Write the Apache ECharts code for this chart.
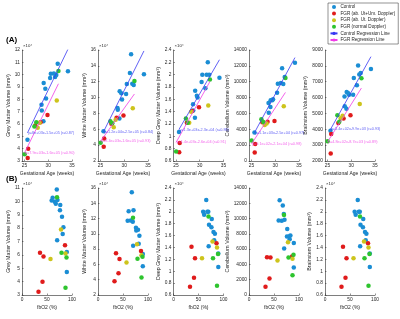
<!DOCTYPE html>
<html>
<head>
<meta charset="utf-8">
<script src="https://cdn.jsdelivr.net/npm/echarts@6/dist/echarts.min.js"></script>
<style>
html, body { margin: 0; padding: 0; background: #fff; }
#chart { width: 400px; height: 319px; }
</style>
</head>
<body>
<div id="chart"></div>
<script>
// grey, white and deep grey matter in 1e4 mm3, cerebellum and brainstem in mm3
var ctrlGA   = [25.65, 29.0, 28.65, 28.6, 29.55, 29.4, 29.05, 30.4, 31.45, 31.7, 30.55, 34.15, 32.0, 31.2];
var ctrlFbo2 = [89.6, 89.6, 70.3, 81.4, 82.8, 80, 75.9, 76.5, 67.6, 65.5, 59.3, 61.3, 69.6, 71];
var ctrlGM   = [4.72, 6.22, 7.1, 7.56, 8.06, 8.85, 9.33, 9.73, 9.82, 9.97, 10.07, 10.27, 10.88, 10.1];
var ctrlWM   = [5.75, 7.35, 8.45, 8.7, 9.75, 10.55, 10.8, 10.45, 15.45, 11.75, 11.7, 12.95, 11.6, 13.1];
var ctrlDGM  = [1.07, 1.30, 1.42, 1.52, 1.63, 1.66, 1.74, 1.88, 2.0, 2.2, 2.0, 1.95, 2.0, 1.78];
var ctrlCB   = [3600, 6800, 6100, 7300, 7800, 7670, 7670, 8620, 11700, 9700, 9750, 12400, 10600, 9830];
var ctrlBS   = [3900, 5300, 5450, 6075, 6180, 6280, 6350, 6180, 8020, 7450, 7230, 7800, 7550, 6770];

var redGA   = [25.7, 25.8, 27.3, 28.4, 29.85];
var redFbo2 = [33, 41, 43, 36, 86];
var redGM   = [3.25, 4.0, 5.88, 6.15, 6.72];
var redWM   = [3.8, 4.85, 6.7, 7.45, 7.75];
var redDGM  = [0.74, 0.89, 1.22, 1.41, 1.47];
var redCB   = [1080, 2150, 4900, 4950, 5050];
var redBS   = [2480, 3710, 4400, 4675, 4880];

var yelGA   = [27.8, 28.2, 31.8];
var yelFbo2 = [57, 87, 78];
var yelGM   = [5.7, 6.1, 7.9];
var yelWM   = [6.25, 7.2, 8.65];
var yelDGM  = [1.22, 1.4, 1.5];
var yelCB   = [4530, 4740, 6900];
var yelBS   = [4700, 4850, 5600];

var grnGA   = [25.05, 27.1, 27.5, 32.15];
var grnFbo2 = [87, 89, 79, 70];
var grnGM   = [3.55, 5.8, 6.15, 10.3];
var grnWM   = [4.3, 7.0, 6.75, 12.1];
var grnDGM  = [0.755, 1.29, 1.22, 1.92];
var grnCB   = [2590, 5260, 4910, 10470];
var grnBS   = [3250, 4880, 4470, 7225];

// regression lines y = a*x + b (mm3), one per row A panel
var ctrlSlope = [7980, 12000, 1330, 1114, 540];
var ctrlIcpt  = [-151900, -251000, -23000, -25000, -9860];
var ctrlR     = [0.87, 0.84, 0.86, 0.97, 0.93];
var fgrSlope  = [7870, 8380, 1390, 911, 477];
var fgrIcpt   = [-160400, -164900, -25800, -20640, -8735];
var fgrR      = [0.90, 0.93, 0.91, 0.98, 0.89];
var ctrlRange = [25.65, 34.15];
var fgrRange  = [25.05, 32.15];

var groupNames = ['Control', 'FGR (ab. Ut+Um. Doppler)', 'FGR (ab. Ut. Doppler)', 'FGR (normal Doppler)'];
var lineNames = ['Control Regression Line', 'FGR Regression Line'];
var volNames = ['Grey Matter Volume (mm³)', 'White Matter Volume (mm³)', 'Deep Grey Matter Volume (mm³)',
	'Cerebellum Volume (mm³)', 'Brainstem Volume (mm³)'];
var volScale = [1e4, 1e4, 1e4, 1, 1];
var yMinA = [3, 2, 0.6, 0, 2000], yMaxA = [12, 16, 2.4, 14000, 9000], yStepA = [1, 2, 0.2, 2000, 1000];
var yMinB = [3, 2, 0.6, 0, 0.6], yMaxB = [11, 16, 2.4, 14000, 2.4], yStepB = [1, 2, 0.2, 2000, 0.2];
// the fbO2 brainstem panel of the source figure repeats the deep grey matter values
var volIndexB = [0, 1, 2, 3, 2];
var gaTicks = [25, 30, 35];
var fbTicks = [0, 50, 100];

var groups = [
	{ga: ctrlGA, fb: ctrlFbo2, vols: [ctrlGM, ctrlWM, ctrlDGM, ctrlCB, ctrlBS]},
	{ga: redGA, fb: redFbo2, vols: [redGM, redWM, redDGM, redCB, redBS]},
	{ga: yelGA, fb: yelFbo2, vols: [yelGM, yelWM, yelDGM, yelCB, yelBS]},
	{ga: grnGA, fb: grnFbo2, vols: [grnGM, grnWM, grnDGM, grnCB, grnBS]}
];
var groupColors = ['#1a8dd4', '#e01b1b', '#cdc41c', '#2ec42e'];
var lineColors = ['#3838f2', '#f03ce6'];
var ink = '#262626';
var font = 'Liberation Sans';

var lefts = [22, 98, 173.5, 249, 325];
var nameGaps = [10, 10, 11, 17, 14, 10, 10, 11, 17, 11];

function g2(v) {
	var s = Number(Math.abs(v).toPrecision(2)).toExponential();
	return s.replace(/e([+-])(\d)$/, 'e$10$2');
}
function eqText(a, b, r) {
	return 'y=' + g2(a) + 'x' + (b < 0 ? '-' : '+') + g2(b) + ' (r=' + r.toFixed(2) + ')';
}
function tickFmt(v) {
	return String(+v.toFixed(4));
}

var grid = [], xAxis = [], yAxis = [], series = [], graphic = [];

function addAxes(k, left, top, height, isA, p) {
	grid[k] = {left: left, top: top, width: 50, height: height};
	var ticks = isA ? gaTicks : fbTicks;
	xAxis[k] = {
		gridIndex: k, type: 'value',
		min: isA ? 24.5 : 0, max: isA ? 35 : 100,
		name: isA ? 'Gestational Age (weeks)' : 'fbO2 (%)',
		nameLocation: 'middle', nameGap: 10,
		nameTextStyle: {fontSize: 5, color: ink, fontFamily: font},
		axisLine: {lineStyle: {color: ink, width: 0.6}},
		axisTick: {inside: true, length: 1.5, customValues: ticks, lineStyle: {color: ink, width: 0.5}},
		axisLabel: {customValues: ticks, fontSize: 4.8, color: ink, margin: 2, fontFamily: font, formatter: tickFmt},
		splitLine: {show: false}
	};
	var yMin = isA ? yMinA[p] : yMinB[p];
	var yMax = isA ? yMaxA[p] : yMaxB[p];
	var yStep = isA ? yStepA[p] : yStepB[p];
	yAxis[k] = {
		gridIndex: k, type: 'value', min: yMin, max: yMax, interval: yStep,
		name: volNames[p], nameLocation: 'middle', nameGap: nameGaps[k],
		nameTextStyle: {fontSize: 5.3, color: ink, fontFamily: font},
		axisLine: {show: true, lineStyle: {color: ink, width: 0.6}},
		axisTick: {show: true, inside: true, length: 1.5, lineStyle: {color: ink, width: 0.5}},
		axisLabel: {fontSize: 4.8, color: ink, margin: 2, fontFamily: font, formatter: tickFmt},
		splitLine: {show: false}
	};
}

for (var p = 0; p < 5; p++) {
	var kA = p, kB = p + 5;
	addAxes(kA, lefts[p], 50, 111, true, p);
	addAxes(kB, lefts[p], 188, 107, false, p);
	for (var g = 0; g < groups.length; g++) {
		var grp = groups[g];
		var ptsA = [], ptsB = [];
		for (var i = 0; i < grp.ga.length; i++) {
			ptsA.push([grp.ga[i], grp.vols[p][i]]);
			ptsB.push([grp.fb[i], grp.vols[volIndexB[p]][i]]);
		}
		series.push({name: groupNames[g], type: 'scatter', xAxisIndex: kA, yAxisIndex: kA,
			symbolSize: 4.5, itemStyle: {color: groupColors[g], opacity: 1}, data: ptsA});
		series.push({name: groupNames[g], type: 'scatter', xAxisIndex: kB, yAxisIndex: kB,
			symbolSize: 4.5, itemStyle: {color: groupColors[g], opacity: 1}, data: ptsB});
	}
	var fits = [
		[ctrlSlope[p], ctrlIcpt[p], ctrlR[p], ctrlRange],
		[fgrSlope[p], fgrIcpt[p], fgrR[p], fgrRange]
	];
	for (var f = 0; f < 2; f++) {
		var a = fits[f][0], b = fits[f][1], rng = fits[f][3];
		var x0 = rng[0], x1 = rng[1];
		var y0 = (a * x0 + b) / volScale[p], y1 = (a * x1 + b) / volScale[p];
		series.push({name: lineNames[f], type: 'line', xAxisIndex: kA, yAxisIndex: kA,
			symbol: 'none', lineStyle: {color: lineColors[f], width: 0.8}, itemStyle: {color: lineColors[f]},
			data: [[x0, y0], [x1, y1]], z: 3});
		series.push({name: 'eq', type: 'scatter', xAxisIndex: kA, yAxisIndex: kA, symbolSize: 0, silent: true,
			data: [[x0, y0]], z: 4,
			label: {show: true, position: 'right', distance: 0.5, fontSize: 3.8, color: lineColors[f],
				fontFamily: font, formatter: eqText(a, b, fits[f][2])}});
	}
	if (volScale[p] !== 1) {
		graphic.push({type: 'text', left: lefts[p] + 1, top: 44, style: {text: '×10⁴', font: '4.3px ' + font, fill: ink}});
	}
	if (volScale[volIndexB[p]] !== 1) {
		graphic.push({type: 'text', left: lefts[p] + 1, top: 182, style: {text: '×10⁴', font: '4.3px ' + font, fill: ink}});
	}
}
graphic.push({type: 'text', left: 6, top: 36, style: {text: '(A)', font: 'bold 8px ' + font, fill: '#000'}});
graphic.push({type: 'text', left: 6, top: 175, style: {text: '(B)', font: 'bold 8px ' + font, fill: '#000'}});

var chart = echarts.init(document.getElementById('chart'), null, {renderer: 'canvas'});
chart.setOption({
	animation: false,
	backgroundColor: '#fff',
	legend: {
		data: groupNames.concat(lineNames),
		orient: 'vertical', left: 328, top: 3,
		itemWidth: 7, itemHeight: 4, itemGap: 1.6,
		padding: [1.5, 3, 1.5, 1.5],
		backgroundColor: '#fff', borderColor: ink, borderWidth: 0.5,
		textStyle: {fontSize: 4.6, color: ink, fontFamily: font, padding: [0, 0, 0, -2]}
	},
	grid: grid,
	xAxis: xAxis,
	yAxis: yAxis,
	series: series,
	graphic: graphic
});
</script>
</body>
</html>
